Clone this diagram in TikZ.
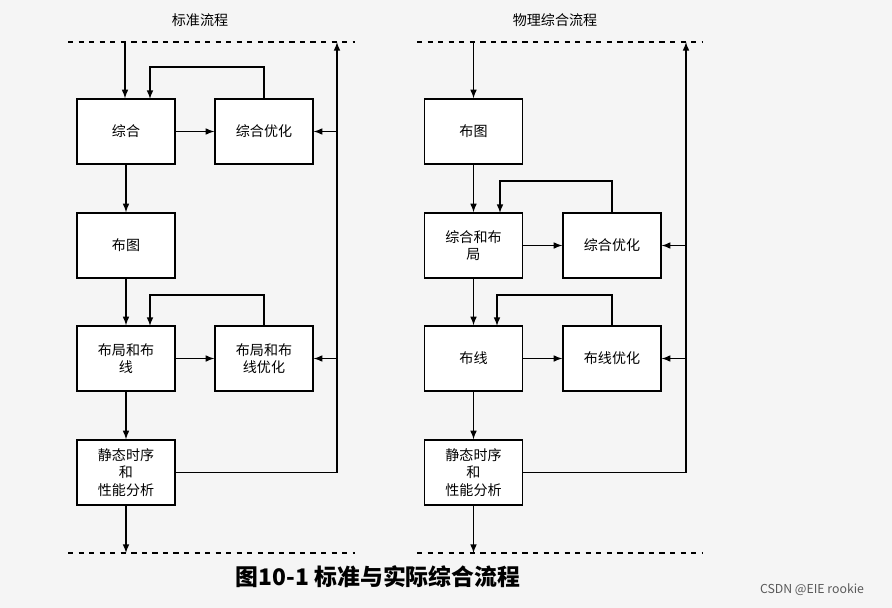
\documentclass[tikz,border=0pt]{standalone}
\usepackage{fontspec}
\setmainfont{Noto Sans CJK SC}
\begin{document}
\begin{tikzpicture}[x=0.02cm,y=-0.02cm,
 box/.style={draw,line width=0.8pt,fill=white,minimum width=1.96cm,minimum height=1.3cm,align=center,font=\fontsize{8}{10}\selectfont,inner sep=1pt},
 ar/.style={->,>=latex,line width=0.7pt},
 ln/.style={line width=0.7pt},
 dl/.style={dashed,line width=0.6pt}]
\fill[gray!8] (0,0) rectangle (892,608);
\useasboundingbox (0,0) rectangle (892,608);
% titles
\node[font=\fontsize{8}{10}\selectfont] (t1) at (200,20) {标准流程};
\node[font=\fontsize{8}{10}\selectfont] (t2) at (555,20) {物理综合流程};
% dashed
\coordinate (la) at (68,42); \coordinate (lb) at (355,42);
\coordinate (lc) at (68,553); \coordinate (ld) at (355,553);
\coordinate (ra) at (417,42); \coordinate (rb) at (703,42);
\coordinate (rc) at (417,553); \coordinate (rd) at (703,553);
\draw[dl] (la)--(lb); \draw[dl] (lc)--(ld);
\draw[dl] (ra)--(rb); \draw[dl] (rc)--(rd);
% left boxes
\node[box] (a1) at (126,131.5) {综合};
\node[box] (a2) at (264,131.5) {综合优化};
\node[box] (a3) at (126,245.5) {布图};
\node[box] (a4) at (126,358.5) {布局和布\\线};
\node[box] (a5) at (264,358.5) {布局和布\\线优化};
\node[box] (a6) at (126,472.5) {静态时序\\和\\性能分析};
% right boxes
\node[box] (b1) at (473.5,131.5) {布图};
\node[box] (b2) at (473.5,245.5) {综合和布\\局};
\node[box] (b3) at (612,245.5) {综合优化};
\node[box] (b4) at (473.5,358.5) {布线};
\node[box] (b5) at (612,358.5) {布线优化};
\node[box] (b6) at (473.5,472.5) {静态时序\\和\\性能分析};
% left arrows
\draw[ar] (125,42)--(a1.north-|125,0);
\draw[ar] (a1)--(a2);
\draw[ar] (a2.north)--(264,67)--(150,67)--(150,99);
\draw[ar] (a1)--(a3);
\draw[ar] (a3)--(a4);
\draw[ar] (a4)--(a5);
\draw[ar] (a5.north)--(264,295)--(150,295)--(150,326);
\draw[ar] (a4)--(a6);
\draw[ar] (a6.south)--(126,553);
\draw[ar] (a6.east)--(337,472.5)--(337,42);
\draw[ar] (337,131.5)--(a2.east);
\draw[ar] (337,358.5)--(a5.east);
% right arrows
\draw[ar] (473.5,42)--(b1.north);
\draw[ar] (b1)--(b2);
\draw[ar] (b2)--(b3);
\draw[ar] (b3.north)--(612,181)--(500,181)--(500,213);
\draw[ar] (b2)--(b4);
\draw[ar] (b4)--(b5);
\draw[ar] (b5.north)--(612,295)--(497,295)--(497,326);
\draw[ar] (b4)--(b6);
\draw[ar] (b6.south)--(473.5,553);
\draw[ar] (b6.east)--(686,472.5)--(686,42);
\draw[ar] (686,245.5)--(b3.east);
\draw[ar] (686,358.5)--(b5.east);
% caption
\node[font=\fontsize{13}{15}\selectfont\bfseries] (cap) at (378,577) {图10-1 标准与实际综合流程};
\node[font=\fontsize{7}{9}\selectfont,text=gray!70!black] (cs) at (812,590) {CSDN @EIE rookie};
\end{tikzpicture}
\end{document}
